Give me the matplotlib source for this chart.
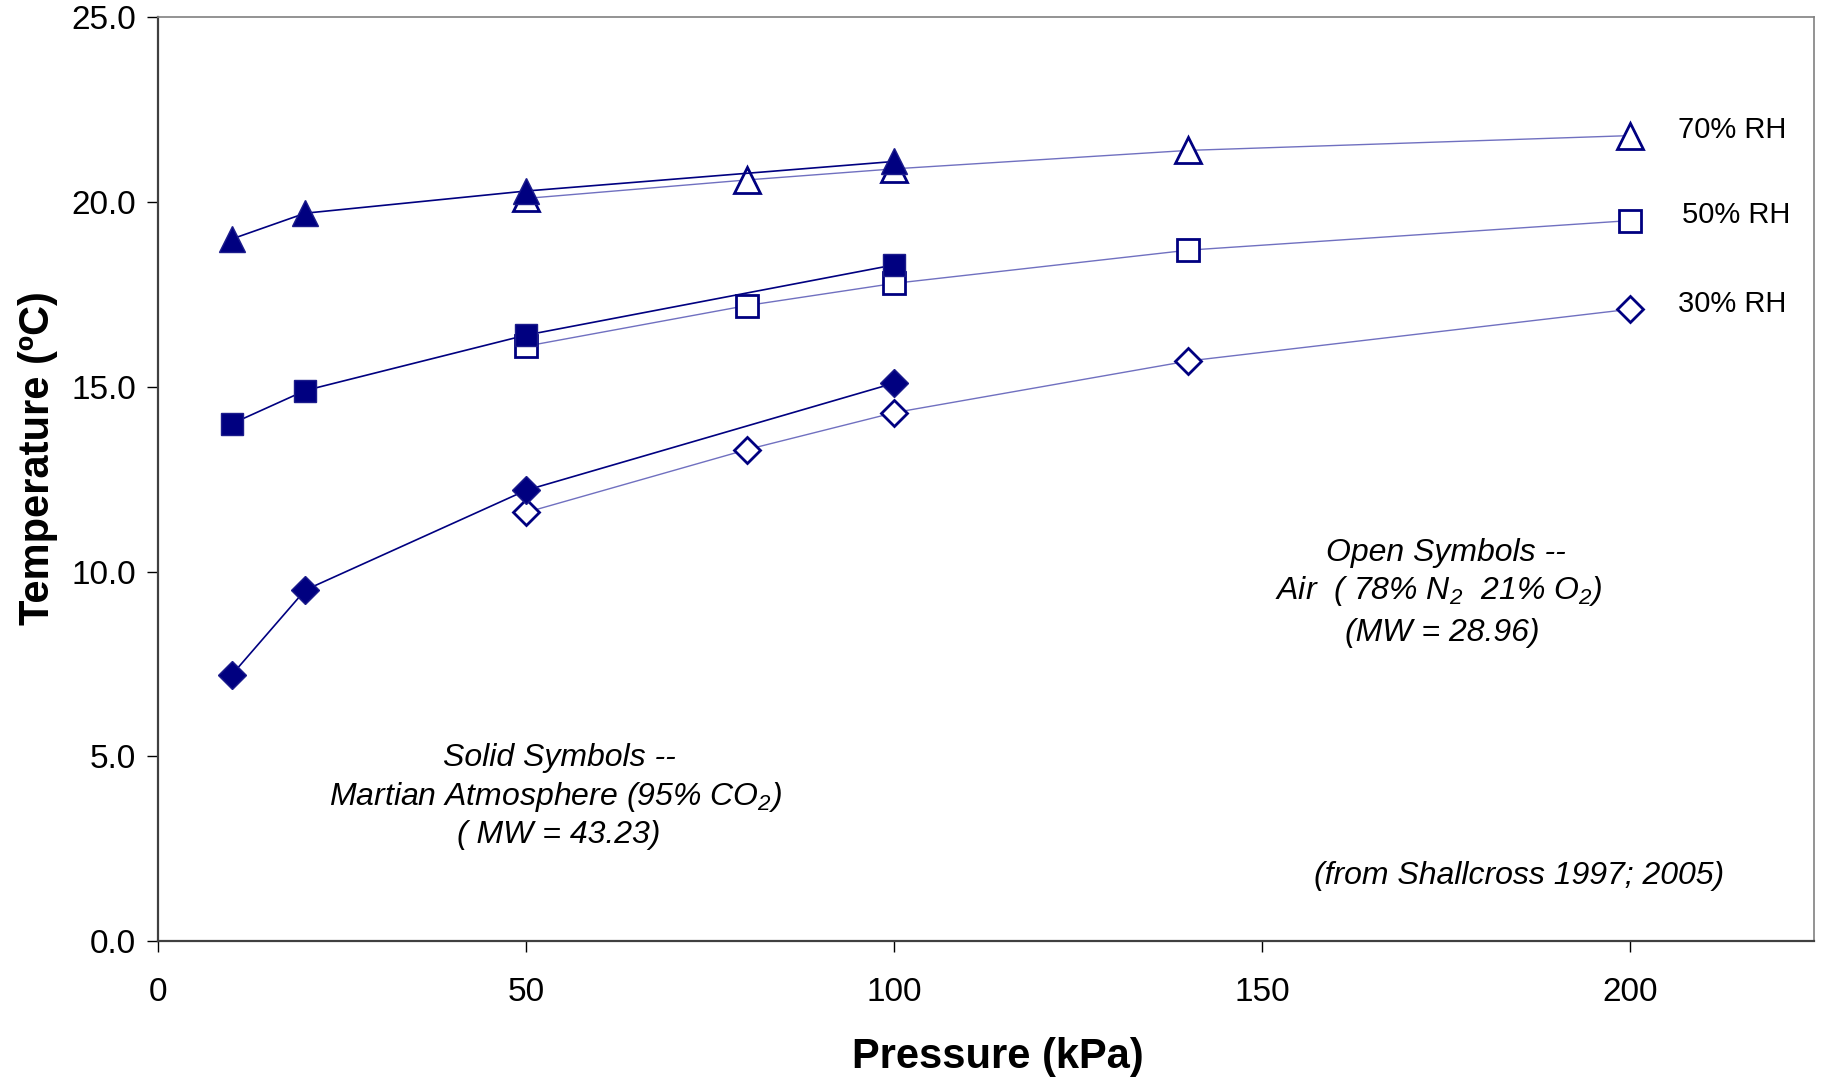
import matplotlib

matplotlib.use("Agg")
import matplotlib.pyplot as plt

plt.rcParams["font.family"] = ["Liberation Sans", "DejaVu Sans"]
plt.rcParams["mathtext.fontset"] = "custom"
plt.rcParams["mathtext.rm"] = "Liberation Sans:italic"
plt.rcParams["mathtext.it"] = "Liberation Sans:italic"

# Martian atmosphere (solid symbols)
mars_p = [10, 20, 50, 100]
mars_70 = [19.0, 19.7, 20.3, 21.1]
mars_50 = [14.0, 14.9, 16.4, 18.3]
mars_30 = [7.2, 9.5, 12.2, 15.1]

# Air (open symbols)
air_p = [50, 80, 100, 140, 200]
air_70 = [20.1, 20.6, 20.9, 21.4, 21.8]
air_50 = [16.1, 17.2, 17.8, 18.7, 19.5]
air_30 = [11.6, 13.3, 14.3, 15.7, 17.1]

rh_labels = ["70% RH", "50% RH", "30% RH"]

NAVY = "#000080"


def main():
    fig = plt.figure(figsize=(18.21, 10.80), dpi=100)
    ax = fig.add_axes([0.0868, 0.1287, 0.9094, 0.8552])

    # air: thin light lines, open markers
    for vals, mk, ms in [(air_70, "^", 19), (air_50, "s", 16), (air_30, "D", 13)]:
        ax.plot(air_p, vals, color="#7070c0", lw=1.0, zorder=2)
        ax.plot(air_p, vals, ls="none", marker=mk, ms=ms, mfc="white",
                mec=NAVY, mew=2.0, zorder=3)

    # mars: dark lines, solid markers
    for vals, mk, ms in [(mars_70, "^", 19), (mars_50, "s", 16), (mars_30, "D", 14)]:
        ax.plot(mars_p, vals, color=NAVY, lw=1.2, zorder=4)
        ax.plot(mars_p, vals, ls="none", marker=mk, ms=ms, mfc=NAVY,
                mec="#1c1c8c", mew=1.0, zorder=5)

    # RH labels beside the last air point
    for lab, vals, dx in zip(rh_labels, [air_70, air_50, air_30], [0, 0.5, 0]):
        ax.text(206.5 + dx, vals[-1] + 0.15, lab, fontsize=21, ha="left", va="center")

    note = dict(fontsize=23, style="italic", ha="center", va="center")
    ax.text(175, 10.5, "Open Symbols --", **note)
    ax.text(174, 9.47, r"Air  ( 78% N$_2$  21% O$_2$)", **note)
    ax.text(174.5, 8.33, "(MW = 28.96)", **note)

    ax.text(54.5, 4.94, "Solid Symbols --", **note)
    ax.text(54, 3.9, r"Martian Atmosphere (95% CO$_2$)", **note)
    ax.text(54.5, 2.86, "( MW = 43.23)", **note)

    ax.text(184.9, 1.76, "(from Shallcross 1997; 2005)", **note)

    ax.set_xlim(0, 225)
    ax.set_ylim(0, 25)
    ax.set_xticks([0, 50, 100, 150, 200])
    ax.set_yticks([0, 5, 10, 15, 20, 25])
    ax.set_yticklabels([f"{v:.1f}" for v in [0, 5, 10, 15, 20, 25]])
    ax.tick_params(axis="both", labelsize=24, length=8, width=1, direction="out")
    ax.tick_params(axis="x", pad=18)
    ax.tick_params(axis="y", pad=8)

    for side in ["top", "right"]:
        ax.spines[side].set_color("#808080")
        ax.spines[side].set_linewidth(1.2)
    for side in ["left", "bottom"]:
        ax.spines[side].set_color("#404040")
        ax.spines[side].set_linewidth(1.6)

    ax.set_xlabel("Pressure (kPa)", fontsize=30, fontweight="bold", labelpad=21)
    ax.xaxis.label.set_x(0.507)
    ax.set_ylabel("Temperature (\u00baC)", fontsize=30, fontweight="bold",
                  fontstretch="condensed",
                  family=["Liberation Sans Narrow", "Liberation Sans"])
    ax.yaxis.set_label_coords(-0.0605, 0.523)

    fig.savefig("out.png", dpi=100)
    plt.close(fig)


if __name__ == "__main__":
    main()
